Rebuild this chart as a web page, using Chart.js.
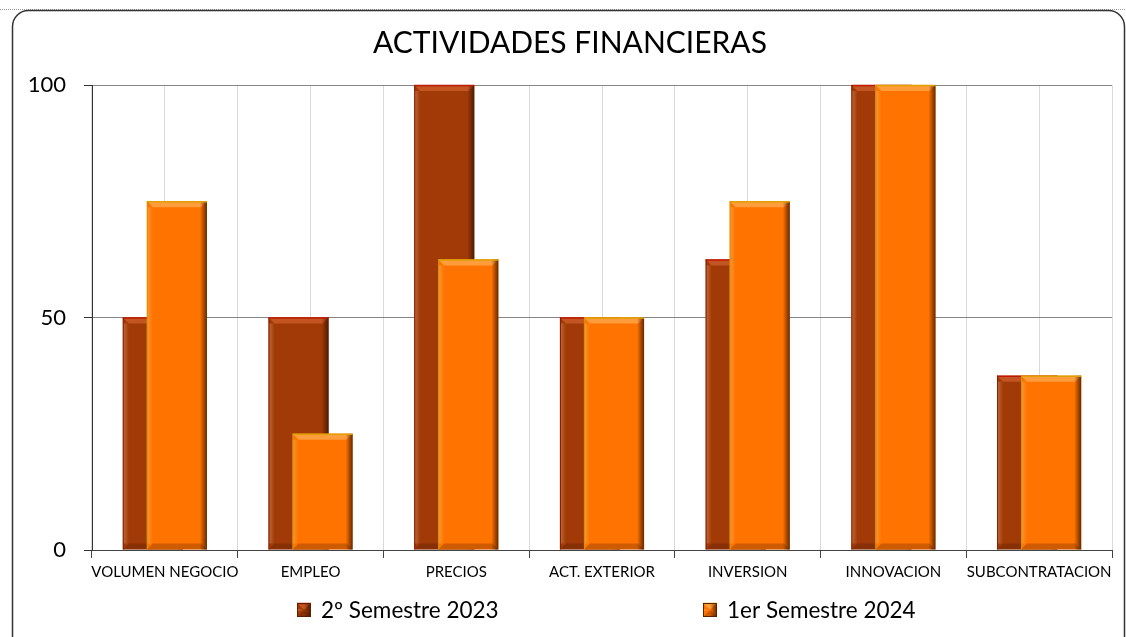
<!DOCTYPE html>
<html>
<head>
<meta charset="utf-8">
<script src="https://cdn.jsdelivr.net/npm/chart.js@4.4.1/dist/chart.umd.min.js"></script>
<style>
  html, body { margin: 0; padding: 0; background: #fff; }
  #wrap { width: 1126px; height: 637px; }
</style>
</head>
<body>
<div id="wrap"><canvas id="chart" width="1126" height="637"></canvas></div>
<script>
const categories = ['VOLUMEN NEGOCIO', 'EMPLEO', 'PRECIOS', 'ACT. EXTERIOR', 'INVERSION', 'INNOVACION', 'SUBCONTRATACION'];
const seriesNames = ['2º Semestre 2023', '1er Semestre 2024'];
const semestre2023 = [50, 50, 100, 50, 62.5, 100, 37.5];
const semestre2024 = [75, 25, 62.5, 50, 75, 100, 37.5];
const yTicks = [0, 50, 100];

const FONT = 'Lato, "Open Sans", sans-serif';

// bar look: base fill, light bevel, top edge line, left edge line
const looks = [
  { fill: '#a23a07', light: 'rgba(235,120,70,0.45)', top: '#c01800', left: '#8a1a00' },
  { fill: '#ff7300', light: 'rgba(255,190,110,0.55)', top: '#e0a000', left: '#c89a00' }
];

function bevel(ctx, l, r, t, b, look) {
  const h = b - t;
  const bw = Math.min(6, h / 2);
  ctx.save();
  // top bevel
  ctx.fillStyle = look.light;
  ctx.beginPath();
  ctx.moveTo(l, t); ctx.lineTo(r, t); ctx.lineTo(r - bw, t + bw); ctx.lineTo(l + bw, t + bw);
  ctx.closePath(); ctx.fill();
  // bottom bevel
  ctx.fillStyle = 'rgba(60,20,0,0.25)';
  ctx.beginPath();
  ctx.moveTo(l, b); ctx.lineTo(r, b); ctx.lineTo(r - bw, b - bw); ctx.lineTo(l + bw, b - bw);
  ctx.closePath(); ctx.fill();
  // left light
  let g = ctx.createLinearGradient(l, 0, l + 6, 0);
  g.addColorStop(0, 'rgba(255,230,180,0.30)');
  g.addColorStop(1, 'rgba(255,230,180,0)');
  ctx.fillStyle = g;
  ctx.fillRect(l, t + bw, 6, h - 2 * bw);
  // right shade
  g = ctx.createLinearGradient(r - 7, 0, r, 0);
  g.addColorStop(0, 'rgba(50,15,0,0)');
  g.addColorStop(1, 'rgba(50,15,0,0.75)');
  ctx.fillStyle = g;
  ctx.fillRect(r - 7, t, 7, h);
  // edges
  ctx.lineWidth = 1.5;
  ctx.strokeStyle = look.top;
  ctx.beginPath(); ctx.moveTo(l, t + 0.5); ctx.lineTo(r, t + 0.5); ctx.stroke();
  ctx.lineWidth = 1;
  ctx.strokeStyle = look.left;
  ctx.beginPath(); ctx.moveTo(l + 0.5, t); ctx.lineTo(l + 0.5, b); ctx.stroke();
  ctx.restore();
}

// frame and background
const framePlugin = {
  id: 'frame',
  beforeDraw(chart) {
    const ctx = chart.ctx;
    ctx.save();
    ctx.fillStyle = '#fff';
    ctx.fillRect(0, 0, chart.width, chart.height);
    ctx.strokeStyle = '#9a9a9a';
    ctx.setLineDash([1, 1]);
    ctx.beginPath(); ctx.moveTo(0, 9.5); ctx.lineTo(chart.width, 9.5); ctx.stroke();
    ctx.setLineDash([]);
    ctx.strokeStyle = '#333';
    ctx.lineWidth = 1.5;
    ctx.beginPath();
    ctx.roundRect(12.5, 10.5, 1112, 660, 16);
    ctx.stroke();
    ctx.restore();
  }
};

// draw datasets in index order so the 2024 bars sit in front
const barsPlugin = {
  id: 'bars',
  beforeDatasetsDraw(chart) {
    const ctx = chart.ctx;
    chart.getSortedVisibleDatasetMetas().forEach(meta => {
      meta.controller.draw();
      const look = looks[meta.index];
      meta.data.forEach(el => {
        const l = el.x - el.width / 2, r = el.x + el.width / 2;
        bevel(ctx, l, r, el.y, el.base, look);
      });
    });
    return false;
  }
};

// legend below the axis labels
const legendPlugin = {
  id: 'legendBelow',
  afterDraw(chart) {
    const ctx = chart.ctx;
    const xs = [297, 703];
    const y = 610;
    ctx.save();
    chart.data.datasets.forEach((ds, i) => {
      const x = xs[i];
      ctx.fillStyle = looks[i].fill;
      ctx.fillRect(x, y - 7, 14, 14);
      bevel(ctx, x, x + 14, y - 7, y + 7, looks[i]);
      ctx.strokeStyle = '#5a2000';
      ctx.lineWidth = 1;
      ctx.strokeRect(x + 0.5, y - 6.5, 13, 13);
      ctx.fillStyle = '#000';
      ctx.font = '22.5px ' + FONT;
      ctx.textBaseline = 'middle';
      ctx.textAlign = 'left';
      ctx.fillText(ds.label, x + 24, y + 1);
    });
    ctx.restore();
  }
};

new Chart(document.getElementById('chart'), {
  type: 'bar',
  data: {
    labels: categories,
    datasets: [
      {
        label: seriesNames[0],
        data: semestre2023,
        backgroundColor: looks[0].fill,
        borderWidth: 0
      },
      {
        label: seriesNames[1],
        data: semestre2024,
        backgroundColor: looks[1].fill,
        borderWidth: 0
      }
    ]
  },
  options: {
    responsive: false,
    animation: false,
    categoryPercentage: 0.33,
    barPercentage: 2.5,
    layout: { padding: { left: 28, right: 14, top: 0, bottom: 0 } },
    plugins: {
      legend: { display: false },
      tooltip: { enabled: false },
      title: {
        display: true,
        text: 'ACTIVIDADES FINANCIERAS',
        color: '#000',
        font: { family: FONT, size: 30, weight: 'normal', lineHeight: 1.2 },
        padding: { top: 25, bottom: 24 }
      }
    },
    scales: {
      x: {
        type: 'category',
        offset: true,
        grid: { offset: true, color: '#d9d9d9', tickColor: '#444', tickLength: 8 },
        border: { display: true, color: '#444', width: 1 },
        ticks: {
          color: '#000',
          font: { family: FONT, size: 15 },
          padding: 5,
          maxRotation: 0,
          autoSkip: false
        },
        afterFit(scale) { scale.height = 87; }
      },
      x2: {
        type: 'category',
        labels: categories,
        position: 'bottom',
        offset: true,
        grid: { offset: false, color: '#d9d9d9', drawTicks: false },
        border: { display: false },
        ticks: { display: false },
        afterFit(scale) { scale.height = 0; }
      },
      y: {
        min: yTicks[0],
        max: yTicks[yTicks.length - 1],
        afterBuildTicks(scale) { scale.ticks = yTicks.map(v => ({ value: v })); },
        grid: { color: '#868686', tickColor: '#333', tickLength: 8 },
        border: { display: true, color: '#333', width: 1 },
        ticks: {
          color: '#000',
          font: { family: FONT, size: 22 },
          padding: 18
        },
        afterFit(scale) { scale.width = 64; }
      }
    }
  },
  plugins: [framePlugin, barsPlugin, legendPlugin]
});
</script>
</body>
</html>
